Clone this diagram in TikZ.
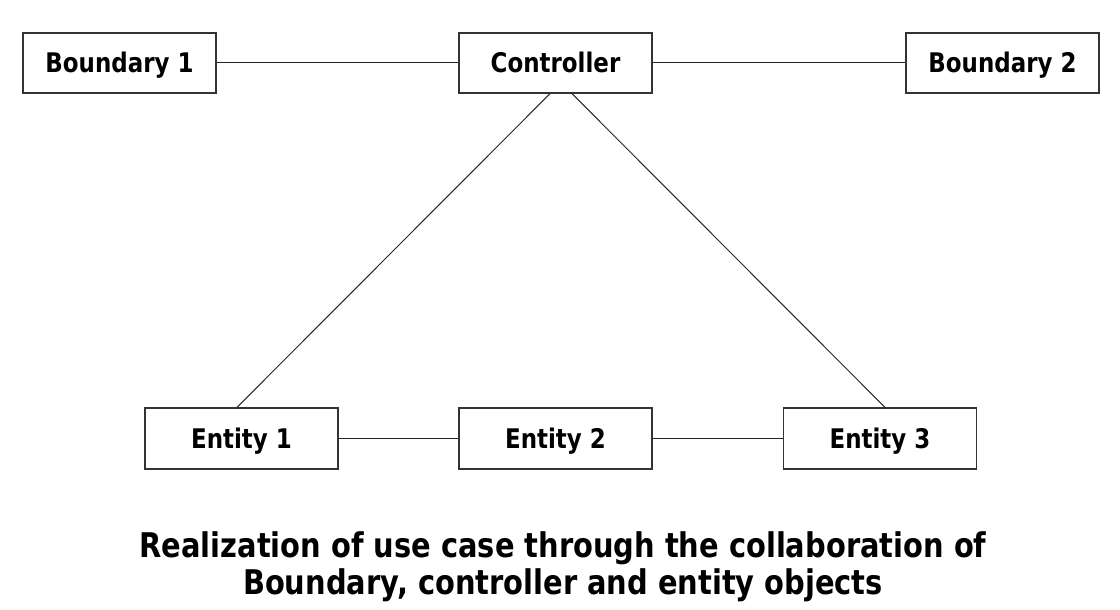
\documentclass[tikz,border=0pt]{standalone}
\usepackage{fontspec}
\setmainfont[FakeStretch=0.85]{DejaVu Sans}
\begin{document}
\begin{tikzpicture}[x=1pt,y=-1pt,
  objbox/.style={draw=black!80, line width=1.3pt, fill=white, minimum width=193pt, minimum height=60pt, inner sep=0pt, text height=20pt, text depth=0pt, font=\fontsize{27}{32}\selectfont\bfseries},
  link/.style={draw=black!85, line width=1pt}]
\useasboundingbox (0,0) rectangle (1120,610);
\node[objbox] (b1) at (119.5,63) {Boundary 1};
\node[objbox] (ctl) at (555.5,63) {Controller};
\node[objbox] (b2) at (1002.5,63) {Boundary 2};
\node[objbox, minimum height=61pt] (e1) at (241.5,438.5) {Entity 1};
\node[objbox, minimum height=61pt] (e2) at (555.5,438.5) {Entity 2};
\node[objbox, minimum height=61pt] (e3) at (880,438.5) {Entity 3};
\draw[link] (b1.east) -- (ctl.west);
\draw[link] (ctl.east) -- (b2.west);
\draw[link] (e1.east) -- (e2.west);
\draw[link] (e2.east) -- (e3.west);
\draw[link] ([xshift=-5.5pt]ctl.south) -- ([xshift=-4.5pt]e1.north);
\draw[link] ([xshift=16.5pt]ctl.south) -- ([xshift=5pt]e3.north);
\node[align=center, font=\fontsize{34}{37}\selectfont\bfseries, inner sep=0pt] (cap) at (563,567)
  {Realization of use case through the collaboration of\\Boundary, controller and entity objects};
\end{tikzpicture}
\end{document}
